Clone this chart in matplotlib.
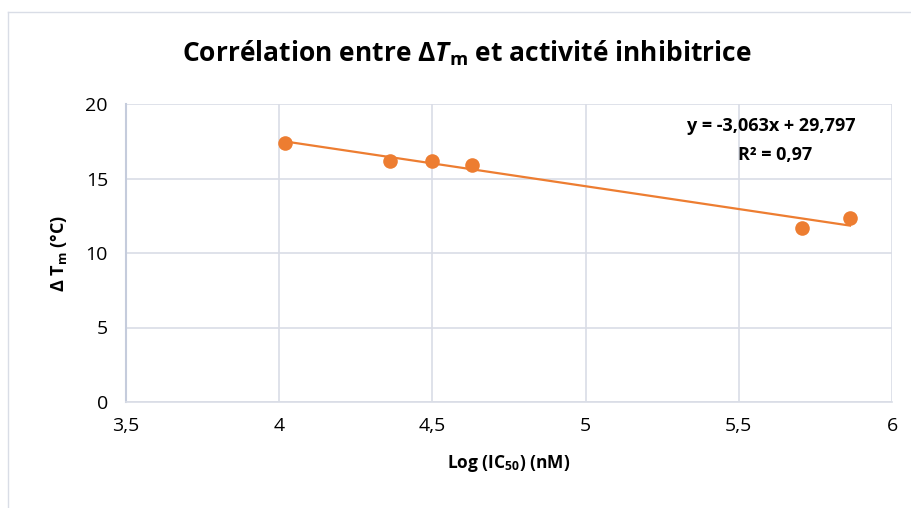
import matplotlib
matplotlib.use("Agg")
import matplotlib.pyplot as plt
from matplotlib.lines import Line2D
import numpy as np

# values
log_ic50 = [4.02, 4.36, 4.50, 4.63, 5.705, 5.863]
delta_tm = [17.4, 16.2, 16.2, 15.9, 11.7, 12.33]
slope = -3.063
intercept = 29.797
r2 = "0,97"
x_ticks = [3.5, 4, 4.5, 5, 5.5, 6]
y_ticks = [0, 5, 10, 15, 20]

orange = "#ED7D31"
grid_col = "#D9DDE6"
H = 508

plt.rcParams['font.family'] = ['Open Sans', 'DejaVu Sans']
plt.rcParams['mathtext.fontset'] = 'custom'
plt.rcParams['mathtext.rm'] = 'Open Sans'
plt.rcParams['mathtext.it'] = 'Open Sans:italic'
plt.rcParams['mathtext.bf'] = 'Open Sans:bold'
plt.rcParams['mathtext.bfit'] = 'Open Sans:bold:italic'


def fmt(v, pos=None):
    s = "{:g}".format(v)
    return s.replace(".", ",")


fig = plt.figure(figsize=(9.12, 5.08), dpi=100)
ax = fig.add_axes([126 / 912, 1 - 402 / H, (892 - 126) / 912, (402 - 104) / H])

# chart area border (only top and left edges are visible)
fig.add_artist(Line2D([8 / 912, 1.0], [1 - 12 / H, 1 - 12 / H],
                      transform=fig.transFigure, color=grid_col, lw=1))
fig.add_artist(Line2D([8 / 912, 8 / 912], [0, 1 - 12 / H],
                      transform=fig.transFigure, color=grid_col, lw=1))

# trend line
xs = np.array([min(log_ic50), max(log_ic50)])
ax.plot(xs, slope * xs + intercept, color=orange, lw=1.6, zorder=3)
ax.plot(log_ic50, delta_tm, 'o', color=orange, markersize=10.5,
        markeredgewidth=0, zorder=4)

ax.set_xlim(3.5, 6)
ax.set_ylim(0, 20)
ax.set_xticks(x_ticks)
ax.set_yticks(y_ticks)
ax.xaxis.set_major_formatter(plt.FuncFormatter(fmt))
ax.yaxis.set_major_formatter(plt.FuncFormatter(fmt))
ax.tick_params(length=0, labelsize=14, colors="#000000")
ax.tick_params(axis='x', pad=11)
ax.tick_params(axis='y', pad=13)
ax.grid(True, color=grid_col, lw=1.2)
ax.set_axisbelow(True)
for side in ['top', 'right']:
    ax.spines[side].set_visible(False)
ax.spines['left'].set_color("#C5CCDC")
ax.spines['left'].set_linewidth(1.5)
ax.spines['bottom'].set_color(grid_col)
ax.spines['bottom'].set_linewidth(1.2)

ax.set_xlabel(r"Log (IC$_\mathbf{50}$) (nM)", fontsize=12.5, fontweight='bold',
              labelpad=13)
ax.set_ylabel(r"Δ T$_\mathbf{m}$ (°C)", fontsize=13, fontweight='bold',
              labelpad=12)

fig.text(467 / 912, 1 - 53 / H,
         r"Corrélation entre Δ$\bfit{T}_\mathbf{m}$ et activité inhibitrice",
         ha='center', va='center', fontsize=19, fontweight='bold')

fig.text(771 / 912, 1 - 126 / H, "y = -3,063x + 29,797", fontsize=13,
         fontweight='bold', ha='center', va='center')
fig.text(775 / 912, 1 - 155 / H, "R² = " + r2, fontsize=13,
         fontweight='bold', ha='center', va='center')

fig.savefig("out.png", dpi=100)
